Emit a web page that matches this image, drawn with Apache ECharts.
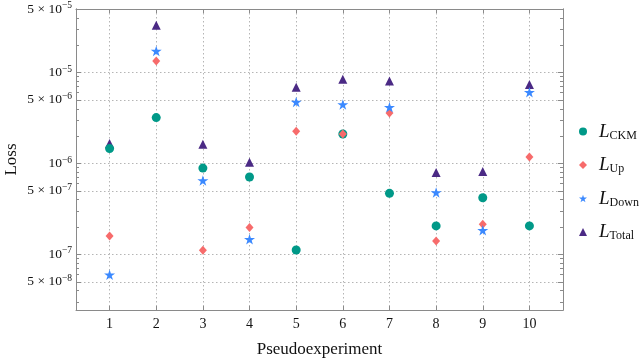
<!DOCTYPE html>
<html>
<head>
<meta charset="utf-8">
<script src="https://cdn.jsdelivr.net/npm/echarts@6/dist/echarts.min.js"></script>
<style>
  html, body { margin: 0; padding: 0; background: #fff; }
  #main { width: 640px; height: 358px; }
</style>
</head>
<body>
<div id="main"></div>
<script>
// data
const experiments = [1, 2, 3, 4, 5, 6, 7, 8, 9, 10];
const lossCKM   = [1.46e-6, 3.2e-6, 8.9e-7, 7.1e-7, 1.12e-7, 2.11e-6, 4.7e-7, 2.06e-7, 4.2e-7, 2.06e-7];
const lossUp    = [1.6e-7, 1.34e-5, 1.11e-7, 1.98e-7, 2.26e-6, 2.11e-6, 3.6e-6, 1.41e-7, 2.15e-7, 1.18e-6];
const lossDown  = [5.97e-8, 1.73e-5, 6.5e-7, 1.47e-7, 4.75e-6, 4.45e-6, 4.16e-6, 4.8e-7, 1.85e-7, 6.08e-6];
const lossTotal = [1.66e-6, 3.31e-5, 1.63e-6, 1.03e-6, 6.9e-6, 8.44e-6, 8.09e-6, 7.96e-7, 8.17e-7, 7.38e-6];

// y tick labels: mantissa x 10^exp
const yTickValues = [5e-8, 1e-7, 5e-7, 1e-6, 5e-6, 1e-5, 5e-5];
const yTickMant   = [5, 1, 5, 1, 5, 1, 5];
const yTickExp    = [-8, -7, -7, -6, -6, -5, -5];

const yMin = 2.45e-8, yMax = 5e-5;
const xMin = 0.28, xMax = 10.72;

// minor log ticks 2..9 x 10^n
const yMinor = [];
for (let e = -8; e <= -5; e++) {
  for (let m = 2; m <= 9; m++) {
    const v = m * Math.pow(10, e);
    if (v > yMin && v < yMax && m !== 5) yMinor.push(v);
  }
}

const serif = '"Liberation Serif", "DejaVu Serif", serif';
const gray = '#8a8a8a';
const gridGray = '#b5b5b5';

const starPath = 'path://M50,0 L61.2,34.5 L97.6,34.5 L68.2,55.8 L79.4,90.5 L50,69.1 L20.6,90.5 L31.8,55.8 L2.4,34.5 L38.8,34.5 Z';

function toPairs(arr) {
  return experiments.map((x, i) => [x, arr[i]]);
}

function yLabel(v) {
  let k = 0;
  yTickValues.forEach((t, i) => {
    if (Math.abs(Math.log10(t) - Math.log10(v)) < Math.abs(Math.log10(yTickValues[k]) - Math.log10(v))) k = i;
  });
  const exp = '{e|\u2212' + Math.abs(yTickExp[k]) + '}';
  return yTickMant[k] === 1 ? '{b|10}' + exp : '{b|' + yTickMant[k] + ' \u00d7 10}' + exp;
}

const yRich = {
  b: { fontFamily: serif, fontSize: 13.5, lineHeight: 17, color: '#111' },
  e: { fontFamily: serif, fontSize: 9.5, lineHeight: 8, verticalAlign: 'top', color: '#111' }
};

function yAxisDef(pos, ticks, len, withLabels) {
  return {
    type: 'log', logBase: 10, min: yMin, max: yMax, position: pos,
    axisLine: { show: true, lineStyle: { color: gray, width: 1 } },
    axisTick: { show: true, inside: true, length: len, customValues: ticks, lineStyle: { color: gray } },
    axisLabel: withLabels
      ? { show: true, customValues: yTickValues, margin: 4, formatter: yLabel, rich: yRich }
      : { show: false },
    splitLine: { show: withLabels, lineStyle: { type: [1.5, 2.5], color: gridGray, width: 1 } },
    minorTick: { show: false },
    name: withLabels ? 'Loss' : '',
    nameLocation: 'middle',
    nameGap: 56,
    nameMoveOverlap: false,
    nameTextStyle: { fontFamily: serif, fontSize: 17, color: '#111' }
  };
}

const chart = echarts.init(document.getElementById('main'));
chart.setOption({
  backgroundColor: '#fff',
  animation: false,
  grid: { left: 76, right: 77, top: 9, bottom: 48, outerBoundsMode: 'none', containLabel: false },
  xAxis: [
    {
      type: 'value', min: xMin, max: xMax, position: 'bottom',
      axisLine: { show: true, onZero: false, lineStyle: { color: gray } },
      axisTick: { show: true, inside: true, length: 4, customValues: experiments, lineStyle: { color: gray } },
      axisLabel: { customValues: experiments, margin: 7, fontFamily: serif, fontSize: 14, color: '#111' },
      splitLine: { show: true, lineStyle: { type: [1.5, 2.5], color: gridGray } },
      name: 'Pseudoexperiment', nameLocation: 'middle', nameGap: 31,
      nameMoveOverlap: false,
      nameTextStyle: { fontFamily: serif, fontSize: 17, color: '#111' }
    },
    {
      type: 'value', min: xMin, max: xMax, position: 'top',
      axisLine: { show: true, onZero: false, lineStyle: { color: gray } },
      axisTick: { show: true, inside: true, length: 4, customValues: experiments, lineStyle: { color: gray } },
      axisLabel: { show: false },
      splitLine: { show: false }
    }
  ],
  yAxis: [
    yAxisDef('left', yTickValues, 5, true),
    yAxisDef('left', yMinor, 3, false),
    yAxisDef('right', yTickValues, 5, false),
    yAxisDef('right', yMinor, 3, false)
  ],
  legend: {
    orient: 'vertical', left: 574, top: 117,
    itemWidth: 8, itemHeight: 8, itemGap: 14,
    data: ['CKM', 'Up', 'Down', 'Total'],
    formatter: n => '{l|L}{s|' + n + '}',
    textStyle: {
      rich: {
        l: { fontFamily: serif, fontStyle: 'italic', fontSize: 19, lineHeight: 20, padding: [0, 0, 0, 7], color: '#111' },
        s: { fontFamily: serif, fontSize: 12, lineHeight: 10, verticalAlign: 'bottom', color: '#111' }
      }
    }
  },
  series: [
    { name: 'Total', type: 'scatter', data: toPairs(lossTotal), symbol: 'triangle', symbolSize: [9, 9],
      itemStyle: { color: '#4b2a85', opacity: 1 }, z: 2 },
    { name: 'CKM', type: 'scatter', data: toPairs(lossCKM), symbol: 'circle', symbolSize: 9,
      itemStyle: { color: '#009988', opacity: 1 }, z: 3 },
    { name: 'Up', type: 'scatter', data: toPairs(lossUp), symbol: 'diamond', symbolSize: [8, 9],
      itemStyle: { color: '#f76b6b', opacity: 1 }, z: 4 },
    { name: 'Down', type: 'scatter', data: toPairs(lossDown), symbol: starPath, symbolSize: [11, 10.5],
      itemStyle: { color: '#3b89ff', opacity: 1 }, z: 5 }
  ]
});
</script>
</body>
</html>
